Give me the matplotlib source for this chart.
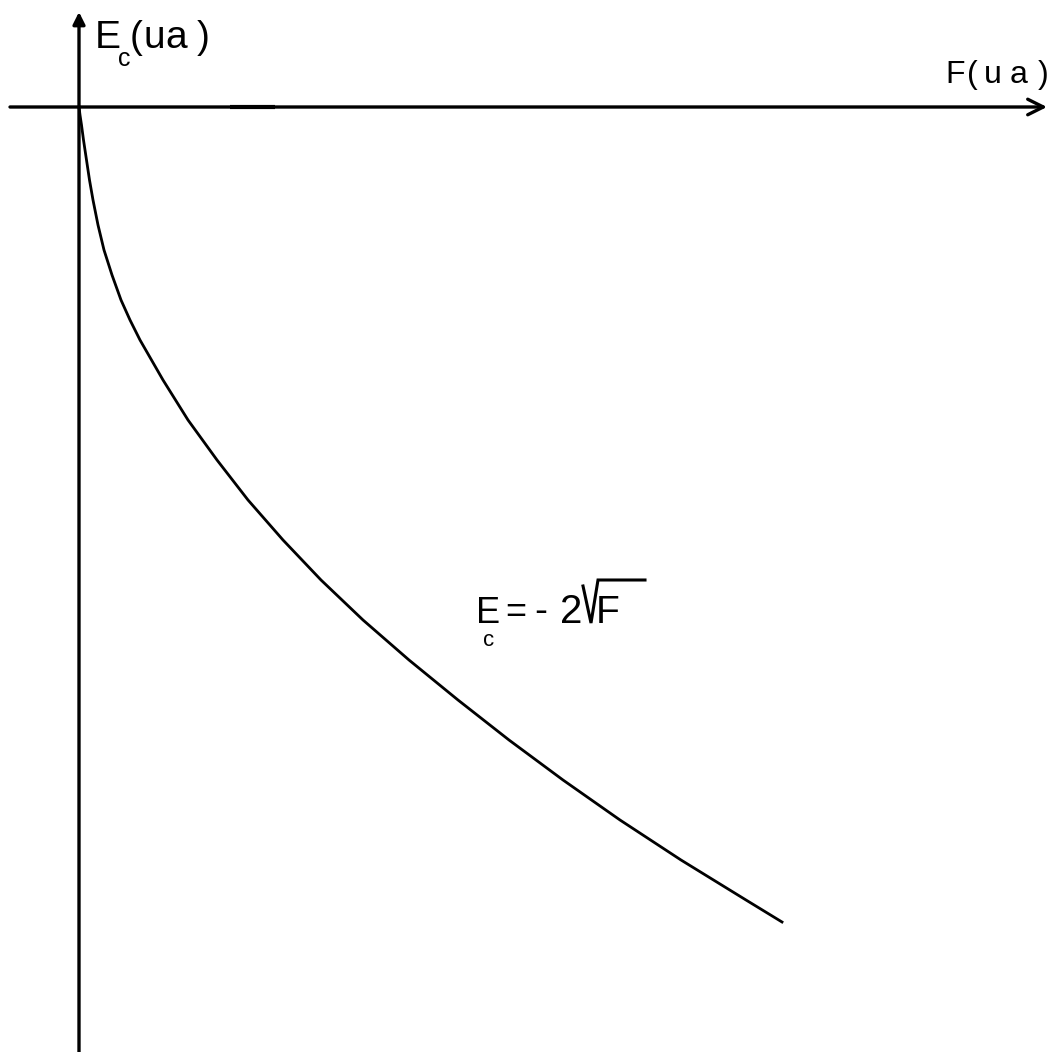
import matplotlib.pyplot as plt
from matplotlib import font_manager

F_ua = [0, 0.01, 0.025, 0.045, 0.075, 0.105, 0.14, 0.19, 0.25, 0.33, 0.42,
        0.51, 0.61, 0.84, 1.09, 1.38, 1.69, 2.04, 2.42, 2.84, 3.30,
        3.79, 4.30, 4.84, 5.41, 6.02, 6.67, 7.03]
E_ua = [0, -0.08, -0.18, -0.33, -0.53, -0.73, -0.93, -1.18, -1.43, -1.68, -1.93,
        -2.13, -2.33, -2.73, -3.13, -3.53, -3.93, -4.33, -4.73, -5.13, -5.53,
        -5.93, -6.33, -6.73, -7.13, -7.53, -7.93, -8.15]

W, H = 1061, 1052
X0, Y0 = 79, 107          # where the axes cross, in pixels


def fx(px):
    return (px - X0) / 100.0


def fy(py):
    return (Y0 - py) / 100.0


names = {f.name for f in font_manager.fontManager.ttflist}
narrow = 'Liberation Sans Narrow' if 'Liberation Sans Narrow' in names else 'Liberation Sans'
wide = 'Liberation Sans'

fig = plt.figure(figsize=(W / 100, H / 100), dpi=100)
ax = fig.add_axes([0, 0, 1, 1])
ax.set_xlim(fx(0), fx(W))
ax.set_ylim(fy(H), fy(0))
ax.axis('off')

# axes with arrows
ax.annotate('', xy=(fx(1047), 0), xytext=(fx(10), 0),
            arrowprops=dict(arrowstyle='->', lw=2.4, color='black',
                            mutation_scale=28, shrinkA=0, shrinkB=0))
ax.annotate('', xy=(fx(78) + 0.01, fy(12)), xytext=(fx(78) + 0.01, fy(H + 5)),
            arrowprops=dict(arrowstyle='-|>', lw=2.4, color='black',
                            mutation_scale=18, shrinkA=0, shrinkB=0))
ax.plot([fx(230), fx(275)], [0.004, 0.004], color='black', lw=3.0,
        solid_capstyle='butt')

ax.plot(F_ua, E_ua, color='black', lw=2.0, solid_joinstyle='round')


def put(s, px, py, size, family, **kw):
    ax.text(fx(px), fy(py), s, fontsize=size, family=family,
            ha='center', va='baseline', **kw)


# E_c(ua) on the vertical axis
put('E', 108, 48, 28, narrow)
put('c', 124, 66, 18, wide)
put('(', 136, 48, 28, wide)
put('u', 154, 48, 28, wide)
put('a', 176, 48, 28, wide)
put(')', 203, 48, 28, wide)

# F(ua) on the horizontal axis
put('F', 955, 83, 23, wide)
put('(', 972, 83, 23, wide)
put('u', 993, 83, 23, wide)
put('a', 1019, 83, 23, wide)
put(')', 1043, 83, 23, wide)

# E_c = -2 sqrt(F) next to the curve
put('E', 488, 623, 26, narrow)
put('c', 489, 646, 16, wide)
put('=', 516, 622, 26, narrow)
put('-', 541, 622, 28, narrow)
put('2', 571, 623, 29, narrow)
put('F', 608, 623, 28, narrow)
# radical sign with its bar over F
ax.plot([fx(583), fx(591), fx(598), fx(645)],
        [fy(586), fy(623), fy(580), fy(580)],
        color='black', lw=2.2, solid_joinstyle='miter')

fig.savefig('out.png', dpi=100, facecolor='white')
